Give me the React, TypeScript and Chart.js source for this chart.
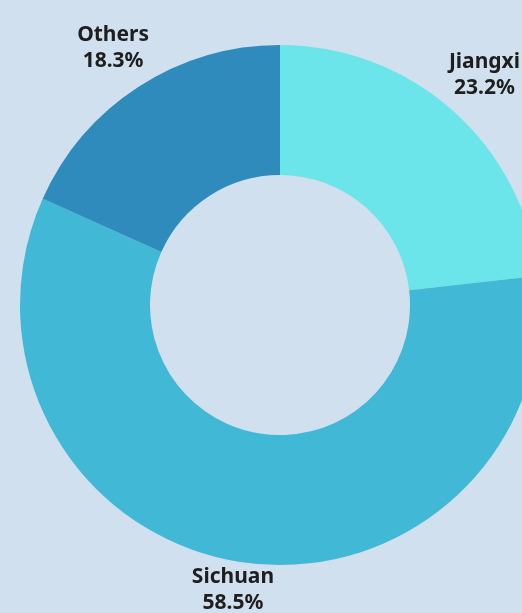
import React, { useEffect, useRef } from "react";
import { Chart, registerables } from "chart.js";

Chart.register(...registerables);

const categories = ["Jiangxi", "Sichuan", "Others"];
const shares = [23.2, 58.5, 18.3];
const colors = ["#6be5e9", "#41b8d6", "#2e8bbb"];
const background = "#d0e0ee";

const labelPlugin = {
  id: "outerLabels",
  afterDatasetsDraw(chart: any) {
    const { ctx } = chart;
    const meta = chart.getDatasetMeta(0);
    ctx.save();
    ctx.font = "bold 21px 'Noto Sans', sans-serif";
    ctx.fillStyle = "#1e1e1e";
    ctx.textAlign = "center";
    ctx.textBaseline = "middle";
    meta.data.forEach((arc: any, i: number) => {
      const p = arc.getProps(["x", "y", "startAngle", "endAngle", "outerRadius"], true);
      const mid = (p.startAngle + p.endAngle) / 2;
      const r = p.outerRadius + 37;
      const cx = p.x + Math.cos(mid) * (r + 10);
      const cy = p.y + Math.sin(mid) * r - 8;
      ctx.fillText(categories[i], cx, cy - 13);
      ctx.fillText(shares[i].toFixed(1) + "%", cx, cy + 13);
    });
    ctx.restore();
  },
};

export default function App() {
  const ref = useRef<HTMLCanvasElement>(null);
  useEffect(() => {
    document.body.style.margin = "0";
    document.body.style.background = background;
    const chart = new Chart(ref.current!, {
      type: "doughnut",
      data: {
        labels: categories,
        datasets: [
          {
            data: shares,
            backgroundColor: colors,
            borderWidth: 0,
          },
        ],
      },
      options: {
        animation: false,
        responsive: false,
        cutout: "50%",
        layout: { padding: { left: 20, right: 20, top: 45, bottom: 48 } },
        plugins: {
          legend: { display: false },
          tooltip: { enabled: false },
        },
      },
      plugins: [labelPlugin],
    });
    return () => chart.destroy();
  }, []);
  return (
    <div style={{ width: 522, height: 613, overflow: "hidden", background }}>
      <canvas ref={ref} width={560} height={613} style={{ display: "block" }} />
    </div>
  );
}
